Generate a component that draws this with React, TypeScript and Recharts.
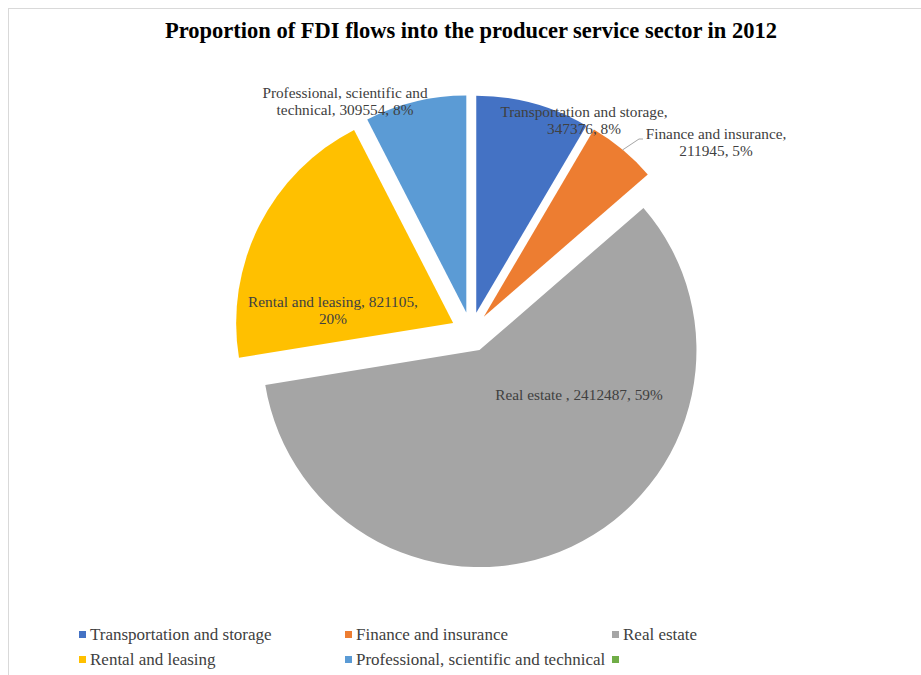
import React from 'react';
import { PieChart, Pie, Cell, Sector, Legend } from 'recharts';

const categories = [
  'Transportation and storage',
  'Finance and insurance',
  'Real estate ',
  'Rental and leasing',
  'Professional, scientific and technical',
  '',
];
const fdiFlows = [347376, 211945, 2412487, 821105, 309554, 0];
const colors = ['#4472C4', '#ED7D31', '#A5A5A5', '#FFC000', '#5B9BD5', '#70AD47'];

const data = categories.map((name, i) => ({ name, value: fdiFlows[i] }));

const EXPLODE = 20;
const RAD = Math.PI / 180;
const FONT = '"Liberation Serif", "Times New Roman", serif';

// label anchor relative to the pie centre (first baseline), words kept on line 1
const labelLayout = [
  { dx: 113, dy: -215, firstLine: 3, leader: false },
  { dx: 245, dy: -193, firstLine: 3, leader: true },
  { dx: 108, dy: 68, firstLine: 99, leader: false },
  { dx: -138, dy: -25, firstLine: 4, leader: false },
  { dx: -126, dy: -234, firstLine: 3, leader: false },
];

const renderSlice = (props: any) => {
  if (!props.value) return <g />;
  const a = -props.midAngle * RAD;
  return (
    <Sector
      {...props}
      cx={props.cx + EXPLODE * Math.cos(a)}
      cy={props.cy + EXPLODE * Math.sin(a)}
    />
  );
};

const renderLabel = (props: any) => {
  const { cx, cy, index, name, value, percent, midAngle, outerRadius } = props;
  if (!value) return null;
  const lay = labelLayout[index];
  const words = `${name}, ${value}, ${Math.round(percent * 100)}%`.split(' ');
  const lines = [
    words.slice(0, lay.firstLine).join(' '),
    words.slice(lay.firstLine).join(' '),
  ].filter(Boolean);
  const x = cx + lay.dx;
  const y = cy + lay.dy;
  let leader = null;
  if (lay.leader) {
    const a = -midAngle * RAD;
    const r = EXPLODE + outerRadius;
    const sx = cx + r * Math.cos(a);
    const sy = cy + r * Math.sin(a);
    leader = (
      <polyline
        points={`${sx},${sy} ${x - 77},${y} ${x - 73},${y}`}
        fill="none"
        stroke="#a6a6a6"
        strokeWidth={1}
      />
    );
  }
  return (
    <g>
      {leader}
      <text x={x} y={y} textAnchor="middle" fontFamily={FONT} fontSize={15.3} fill="#404040">
        {lines.map((l, k) => (
          <tspan key={k} x={x} dy={k ? 17 : 0}>
            {l}
          </tspan>
        ))}
      </text>
    </g>
  );
};

const renderLegend = () => (
  <div
    style={{
      display: 'grid',
      gridTemplateColumns: '266px 267px 200px',
      paddingLeft: 70,
      fontFamily: FONT,
      fontSize: 17,
      color: '#404040',
    }}
  >
    {categories.map((c, i) => (
      <div key={i} style={{ display: 'flex', alignItems: 'center', height: 25, whiteSpace: 'nowrap' }}>
        <span style={{ width: 7, height: 7, background: colors[i], marginRight: 4, flex: 'none' }} />
        <span>{c.trim()}</span>
      </div>
    ))}
  </div>
);

export default function App() {
  return (
    <div
      style={{
        position: 'relative',
        width: 913,
        height: 667,
        margin: '8px 0 0 8px',
        boxSizing: 'border-box',
        borderLeft: '1px solid #d9d9d9',
        borderTop: '1px solid #d9d9d9',
        background: '#fff',
      }}
    >
      <style>{'body { margin: 0; }'}</style>
      <div
        style={{
          position: 'absolute',
          top: 11,
          left: 0,
          width: 924,
          textAlign: 'center',
          fontFamily: FONT,
          fontWeight: 'bold',
          fontSize: 22.5,
          lineHeight: 1,
          color: '#000',
          zIndex: 1,
        }}
      >
        Proportion of FDI flows into the producer service sector in 2012
      </div>
      <PieChart width={911} height={666} margin={{ top: 0, right: 0, bottom: 0, left: 0 }}>
        <Pie
          data={data}
          dataKey="value"
          nameKey="name"
          cx={462}
          cy={323}
          outerRadius={217}
          startAngle={90}
          endAngle={-270}
          stroke="none"
          label={renderLabel}
          labelLine={false}
          shape={renderSlice}
          isAnimationActive={false}
        >
          {data.map((d, i) => (
            <Cell key={d.name + i} fill={colors[i]} />
          ))}
        </Pie>
        <Legend content={renderLegend} wrapperStyle={{ left: 0, top: 613, width: 911, bottom: 'auto' }} />
      </PieChart>
    </div>
  );
}
